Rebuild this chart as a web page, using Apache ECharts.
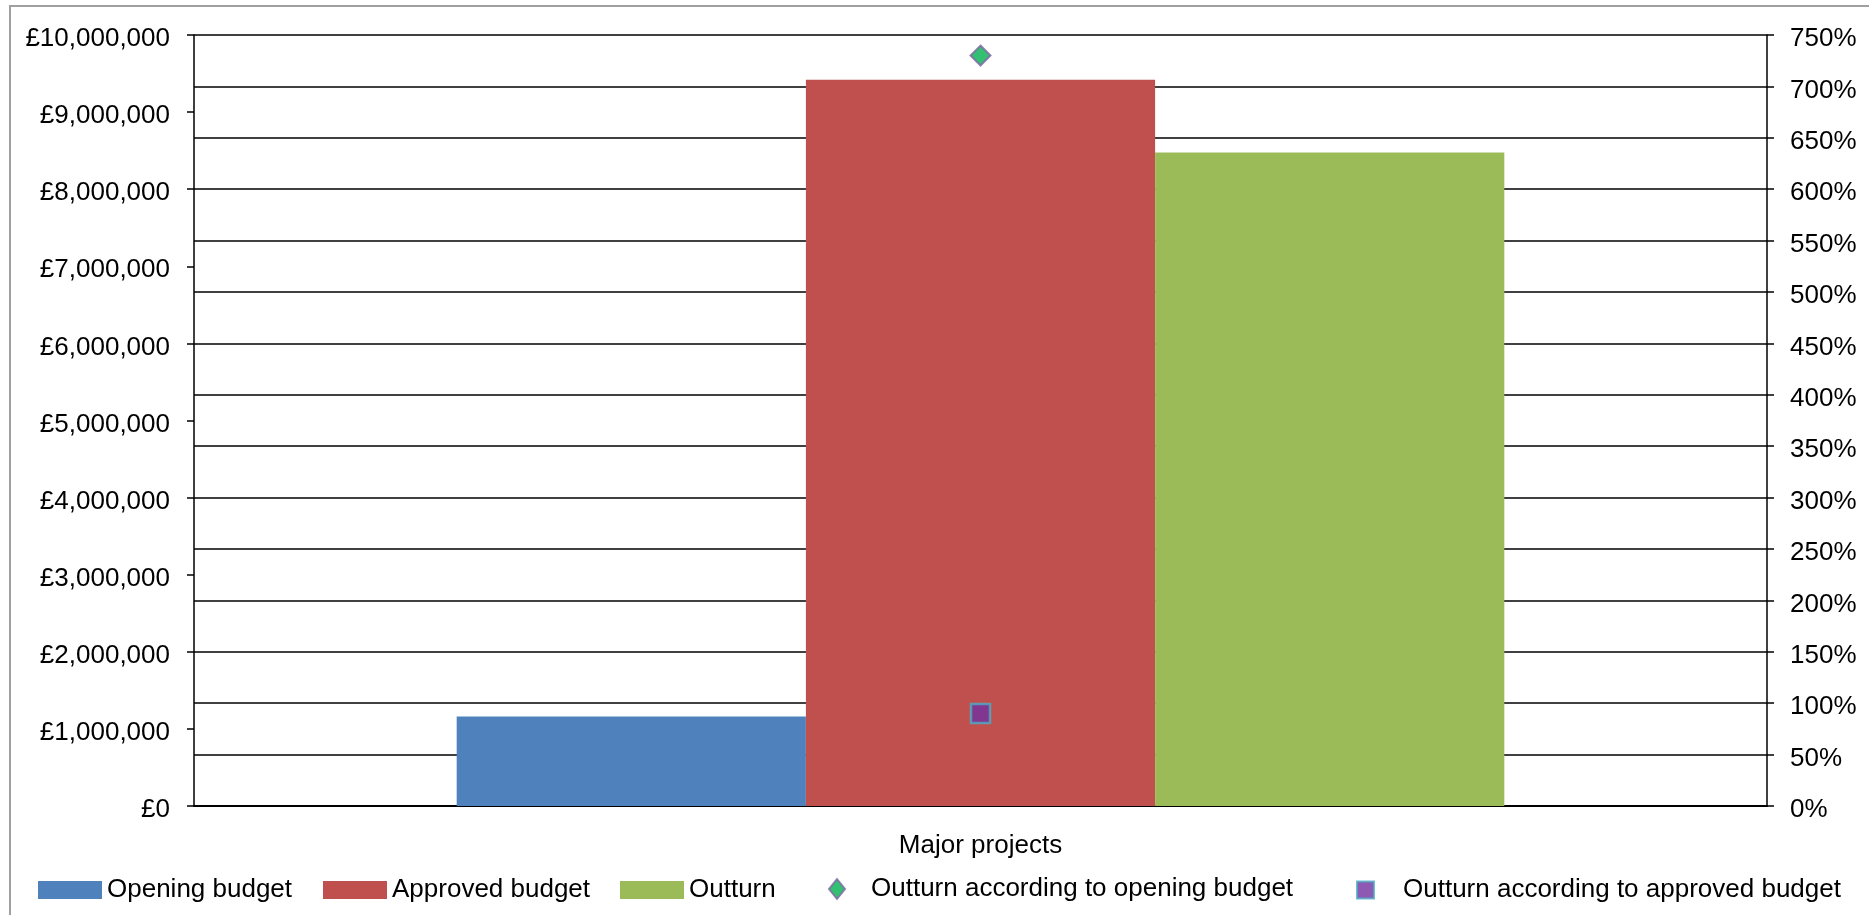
<!DOCTYPE html>
<html><head><meta charset="utf-8">
<script src="https://cdn.jsdelivr.net/npm/echarts@6/dist/echarts.min.js"></script>
<style>html,body{margin:0;padding:0;background:#fff}#c{width:1869px;height:915px}</style>
</head><body><div id="c"></div>
<script>
const categories = ['Major projects'];
const openingBudget = [1162000];
const approvedBudget = [9418000];
const outturn = [8475000];
const outturnVsOpening = [7.30];
const outturnVsApproved = [0.90];
const leftTicks = [0, 10000000, 1000000];
const rightTicks = [0, 7.5, 0.5];

const font = 'Liberation Sans, Arial, sans-serif';
const fs = 26;
const chart = echarts.init(document.getElementById('c'));
function lg(name, left, w, h, top, icon, padLeft) {
  return {data: [{name: name, icon: icon}], left: left, top: top, itemWidth: w, itemHeight: h, itemGap: 0,
    textStyle: {fontFamily: font, fontSize: fs, color: '#000', padding: [0, 0, 0, padLeft || 0]}, selectedMode: false};
}
chart.setOption({
  animation: false,
  graphic: [{type: 'rect', shape: {x: 10, y: 6, width: 1880, height: 940},
    style: {fill: 'none', stroke: '#a0a0a0', lineWidth: 2}}],
  grid: {left: 194, right: 102, top: 35, bottom: 109},
  legend: [
    lg('Opening budget', 33, 64, 18, 872, 'rect'),
    lg('Approved budget', 318, 64, 18, 872, 'rect'),
    lg('Outturn', 615, 64, 18, 872, 'rect'),
    lg('Outturn according to opening budget', 823, 16, 20, 871, 'diamond', 21),
    lg('Outturn according to approved budget', 1351, 17, 17, 872, 'rect', 24)
  ],
  xAxis: {type: 'category', data: categories,
    axisLine: {lineStyle: {color: '#000', width: 2}},
    axisTick: {length: 7, lineStyle: {color: '#000', width: 1.5}},
    axisLabel: {color: '#000', fontFamily: font, fontSize: fs, margin: 27}},
  yAxis: [
    {type: 'value', min: leftTicks[0], max: leftTicks[1], interval: leftTicks[2],
      axisLine: {show: true, lineStyle: {color: '#000', width: 1.5}},
      axisTick: {show: true, length: 7, lineStyle: {color: '#000', width: 1.5}},
      splitLine: {show: false},
      axisLabel: {color: '#000', fontFamily: font, fontSize: fs, margin: 24, verticalAlign: 'top', lineHeight: 8,
        formatter: v => '£' + v.toLocaleString('en-GB')}},
    {type: 'value', min: rightTicks[0], max: rightTicks[1], interval: rightTicks[2], position: 'right',
      axisLine: {show: true, lineStyle: {color: '#000', width: 1.5}},
      axisTick: {show: true, length: 7, lineStyle: {color: '#000', width: 1.5}},
      splitLine: {show: true, lineStyle: {color: '#000', width: 1.5}},
      axisLabel: {color: '#000', fontFamily: font, fontSize: fs, margin: 23, verticalAlign: 'top', lineHeight: 8,
        formatter: v => Math.round(v * 100) + '%'}}
  ],
  series: [
    {name: 'Opening budget', type: 'bar', data: openingBudget, barGap: '0%', barCategoryGap: '33.4%',
      itemStyle: {color: '#4F81BD'}},
    {name: 'Approved budget', type: 'bar', data: approvedBudget, barGap: '0%', barCategoryGap: '33.4%',
      itemStyle: {color: '#C0504D'}},
    {name: 'Outturn', type: 'bar', data: outturn, barGap: '0%', barCategoryGap: '33.4%',
      itemStyle: {color: '#9BBB59'}},
    {name: 'Outturn according to opening budget', type: 'scatter', yAxisIndex: 1, data: outturnVsOpening,
      symbol: 'diamond', symbolSize: 20, z: 5,
      itemStyle: {color: '#00B050', borderColor: '#8064A2', borderWidth: 2}},
    {name: 'Outturn according to approved budget', type: 'scatter', yAxisIndex: 1, data: outturnVsApproved,
      symbol: 'rect', symbolSize: 19, z: 5,
      itemStyle: {color: '#7030A0', borderColor: '#4BACC6', borderWidth: 2.5}}
  ]
});
</script></body></html>
